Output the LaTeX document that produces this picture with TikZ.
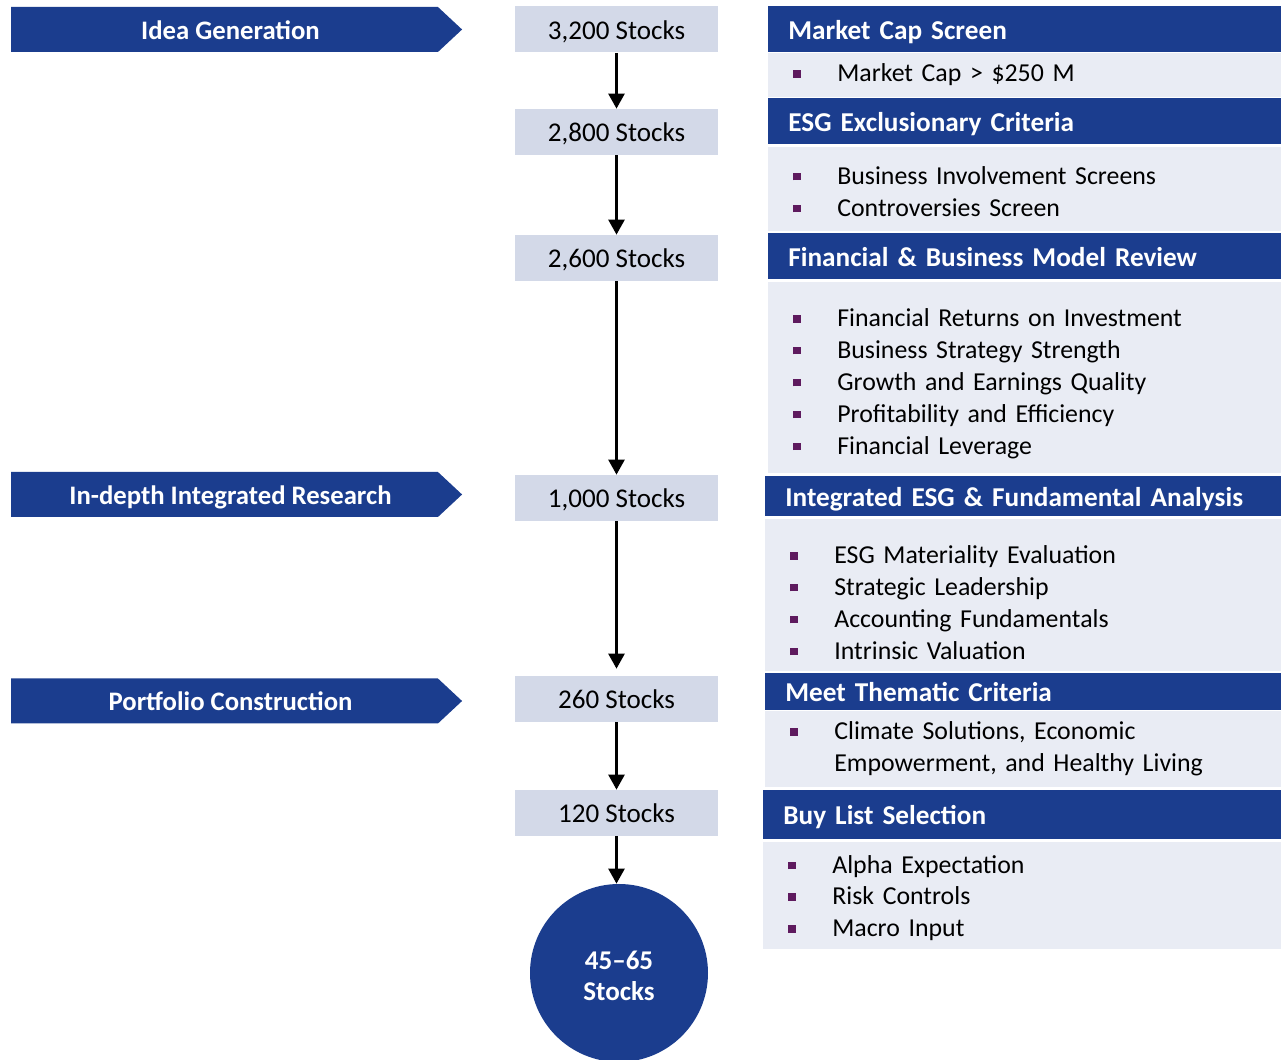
\documentclass[tikz,border=0pt]{standalone}
\usepackage{fontspec}
\setmainfont{Carlito}
\usepackage{tikz}
\usetikzlibrary{arrows.meta,positioning,shapes.symbols}
\definecolor{navy}{HTML}{1B3D8E}
\definecolor{stockgrey}{HTML}{D3D9E8}
\definecolor{panelsoft}{HTML}{E9ECF4}
\definecolor{bulletpurple}{HTML}{5E1A5E}
\newcommand{\bitem}[1]{\makebox[0.88cm][l]{\textcolor{bulletpurple}{\rule[0.08cm]{0.15cm}{0.15cm}}}#1}
% taller first line, pushes a centred block down by half of #2
\newcommand{\lift}[2]{\rule{0pt}{\dimexpr\fontcharht\font`#1+#2\relax}}
\tikzset{
  stage/.style  = {signal, signal to=east, signal pointer angle=86, fill=navy,
                   text=white, minimum width=9.02cm, minimum height=0.9cm,
                   inner sep=0pt, text height=12.5pt, text depth=1.5pt,
                   font=\fontsize{15.2}{18}\selectfont\bfseries},
  stockbox/.style = {fill=stockgrey, minimum width=4.06cm, minimum height=0.92cm,
                   inner sep=0pt, text height=12.5pt, text depth=1.5pt,
                   font=\fontsize{15.4}{18}\selectfont},
  hdr/.style    = {fill=navy, text=white, anchor=north west, align=left,
                   text width=9.6cm, inner xsep=0.4cm, inner ysep=0pt,
                   text height=12.5pt, text depth=1.5pt,
                   font=\fontsize{15.5}{18}\selectfont\bfseries},
  panel/.style  = {fill=panelsoft, align=left, text width=9.6cm,
                   inner xsep=0.5cm, inner ysep=0pt,
                   font=\fontsize{14.7}{18.14}\selectfont},
  flow/.style   = {-{Triangle[length=0.3cm,width=0.32cm]}, line width=0.05cm},
}
\begin{document}
\begin{tikzpicture}
  \useasboundingbox (0,0) rectangle (25.62,-21.2);
  % stages on the left
  \node[stage] (idea) at (4.49,-0.59) {\hspace*{0.24cm}Idea Generation};
  \node[stage] (research) at (4.49,-9.89) {\hspace*{0.24cm}In-depth Integrated Research};
  \node[stage] (build) at (4.49,-14.02) {\hspace*{0.24cm}Portfolio Construction};
  % stock counts
  \node[stockbox] (s3200) at (12.33,-0.59) {3,200 Stocks};
  \node[stockbox] (s2800) at (12.33,-2.64) {2,800 Stocks};
  \node[stockbox] (s2600) at (12.33,-5.16) {2,600 Stocks};
  \node[stockbox] (s1000) at (12.33,-9.96) {1,000 Stocks};
  \node[stockbox] (s260) at (12.33,-13.98) {260 Stocks};
  \node[stockbox] (s120) at (12.33,-16.26) {120 Stocks};
  \node[circle, fill=navy, text=white, minimum size=3.56cm, inner sep=0pt, align=center,
        font=\fontsize{15.4}{18}\selectfont\bfseries] (final) at (12.38,-19.46)
        {\lift{4}{0.14cm}45--65\\Stocks};
  \draw[flow] (s3200.south) -- (s2800.north);
  \draw[flow] (s2800.south) -- (s2600.north);
  \draw[flow] (s2600.south) -- (s1000.north);
  \draw[flow] (s1000.south) -- ([yshift=0.14cm]s260.north);
  \draw[flow] (s260.south) -- (s120.north);
  \draw[flow] (s120.south) -- (s120.south |- final.north);
  % screens on the right
  \node[hdr, minimum height=0.92cm] (mcap) at (15.36,-0.12) {Market Cap Screen};
  \node[panel, minimum height=0.88cm, below right=0cm and 0cm of mcap.south west] (mcapbody)
    {\bitem{Market Cap > \$250 M}};
  \node[hdr, minimum height=0.92cm] (esg) at (15.36,-1.96) {ESG Exclusionary Criteria};
  \node[panel, minimum height=1.68cm, below right=0.04cm and 0cm of esg.south west] (esgbody)
    {\lift{l}{0.1cm}\bitem{Business Involvement Screens}\\\bitem{Controversies Screen}};
  \node[hdr, minimum height=0.92cm] (fin) at (15.36,-4.66) {Financial \& Business Model Review};
  \node[panel, minimum height=3.82cm, below right=0.04cm and 0cm of fin.south west] (finbody)
    {\lift{l}{0.24cm}\bitem{Financial Returns on Investment}\\\bitem{Business Strategy Strength}\\
     \bitem{Growth and Earnings Quality}\\\bitem{Profitability and Efficiency}\\
     \bitem{Financial Leverage}};
  \node[hdr, minimum height=0.8cm] (integ) at (15.30,-9.52) {Integrated ESG \& Fundamental Analysis};
  \node[panel, minimum height=3.04cm, below right=0.04cm and 0cm of integ.south west] (integbody)
    {\lift{l}{0.3cm}\bitem{ESG Materiality Evaluation}\\\bitem{Strategic Leadership}\\
     \bitem{Accounting Fundamentals}\\\bitem{Intrinsic Valuation}};
  \node[hdr, minimum height=0.74cm] (theme) at (15.30,-13.46) {Meet Thematic Criteria};
  \node[panel, minimum height=1.52cm, below right=0cm and 0cm of theme.south west] (themebody)
    {\bitem{Climate Solutions, Economic}\\\hspace*{0.88cm}Empowerment, and Healthy Living};
  \node[hdr, minimum height=0.98cm] (buy) at (15.26,-15.80) {Buy List Selection};
  \node[panel, minimum height=2.14cm, below right=0.04cm and 0cm of buy.south west] (buybody)
    {\lift{l}{0.1cm}\bitem{Alpha Expectation}\\\bitem{Risk Controls}\\\bitem{Macro Input}};
\end{tikzpicture}
\end{document}
